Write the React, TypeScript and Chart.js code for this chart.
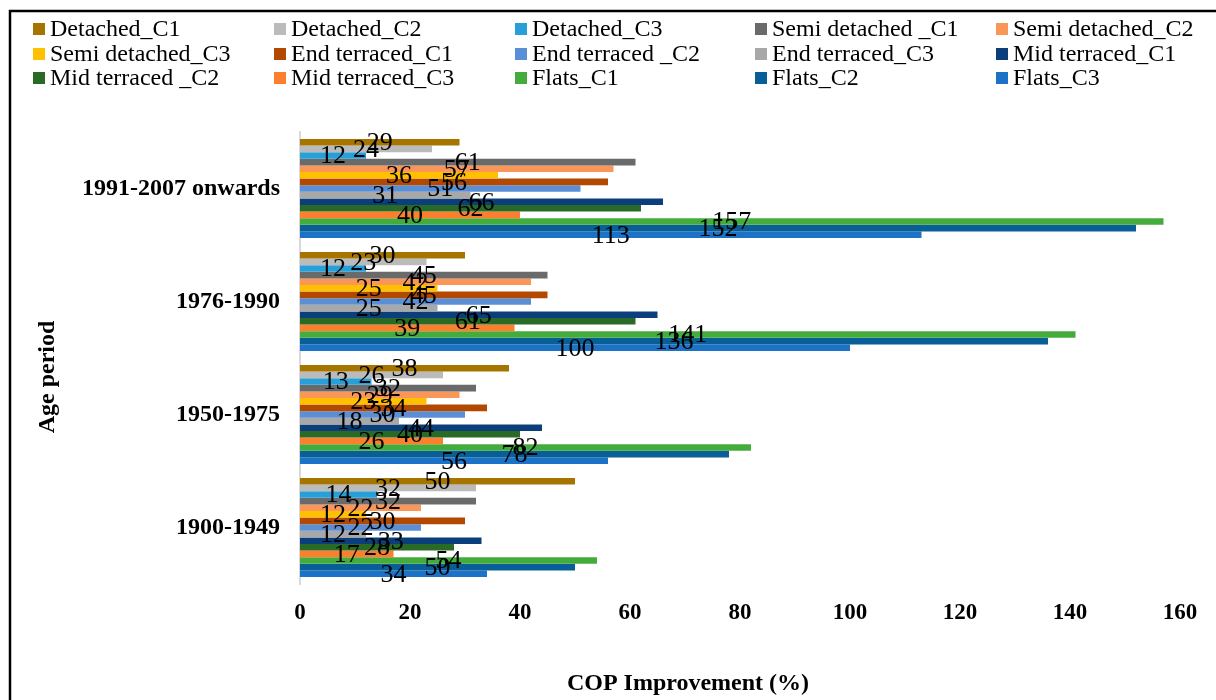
import React, { useEffect, useRef } from "react";
import { Chart, registerables } from "chart.js";

Chart.register(...registerables);

// Age periods, listed top to bottom
const periods = ["1991-2007 onwards", "1976-1990", "1950-1975", "1900-1949"];

const seriesNames = [
  "Detached_C1",
  "Detached_C2",
  "Detached_C3",
  "Semi detached _C1",
  "Semi detached_C2",
  "Semi detached_C3",
  "End terraced_C1",
  "End terraced _C2",
  "End terraced_C3",
  "Mid terraced_C1",
  "Mid terraced _C2",
  "Mid terraced_C3",
  "Flats_C1",
  "Flats_C2",
  "Flats_C3",
];

const seriesColors = [
  "#A67500",
  "#BBBBBB",
  "#27A0DA",
  "#6A6A6A",
  "#FA9758",
  "#FFC000",
  "#B34800",
  "#5B8FD5",
  "#A8A8A8",
  "#0A3F7B",
  "#2A6A27",
  "#FB7F2C",
  "#44AC3D",
  "#085E97",
  "#1B72C7",
];

// COP improvement (%) per period
const detachedC1 = [29, 30, 38, 50];
const detachedC2 = [24, 23, 26, 32];
const detachedC3 = [12, 12, 13, 14];
const semiC1 = [61, 45, 32, 32];
const semiC2 = [57, 42, 29, 22];
const semiC3 = [36, 25, 23, 12];
const endC1 = [56, 45, 34, 30];
const endC2 = [51, 42, 30, 22];
const endC3 = [31, 25, 18, 12];
const midC1 = [66, 65, 44, 33];
const midC2 = [62, 61, 40, 28];
const midC3 = [40, 39, 26, 17];
const flatsC1 = [157, 141, 82, 54];
const flatsC2 = [152, 136, 78, 50];
const flatsC3 = [113, 100, 56, 34];

const seriesValues = [
  detachedC1, detachedC2, detachedC3,
  semiC1, semiC2, semiC3,
  endC1, endC2, endC3,
  midC1, midC2, midC3,
  flatsC1, flatsC2, flatsC3,
];

const xMin = 0;
const xMax = 160;
const xStep = 20;

const xTitle = "COP Improvement (%)";
const yTitle = "Age period";

const SERIF = "'Liberation Serif', 'Times New Roman', serif";

// Value labels centred on each bar
const barValueLabels = {
  id: "barValueLabels",
  afterDatasetsDraw(chart: any) {
    const ctx = chart.ctx;
    ctx.save();
    ctx.font = `26px ${SERIF}`;
    ctx.fillStyle = "#000";
    ctx.textAlign = "center";
    ctx.textBaseline = "middle";
    chart.data.datasets.forEach((ds: any, i: number) => {
      const meta = chart.getDatasetMeta(i);
      meta.data.forEach((bar: any, j: number) => {
        const { x, y, base } = bar.getProps(["x", "y", "base"], true);
        ctx.fillText(String(ds.data[j]), (x + base) / 2, y + 1);
      });
    });
    ctx.restore();
  },
};

// Outer frame, legend grid and axis titles
const decorations = {
  id: "decorations",
  beforeDraw(chart: any) {
    const ctx = chart.ctx;
    ctx.save();
    ctx.fillStyle = "#fff";
    ctx.fillRect(0, 0, chart.width, chart.height);
    ctx.restore();
  },
  afterDraw(chart: any) {
    const ctx = chart.ctx;
    ctx.save();

    // frame
    ctx.strokeStyle = "#000";
    ctx.lineWidth = 2.5;
    ctx.beginPath();
    ctx.moveTo(chart.width + 5, 11);
    ctx.lineTo(10, 11);
    ctx.lineTo(10, chart.height + 5);
    ctx.stroke();

    // legend: 5 columns x 3 rows
    const colX = [33, 274, 515, 755, 996];
    const rowY = [29, 54, 78];
    ctx.font = `24px ${SERIF}`;
    ctx.textAlign = "left";
    ctx.textBaseline = "middle";
    seriesNames.forEach((name, i) => {
      const cx = colX[i % 5];
      const cy = rowY[Math.floor(i / 5)];
      ctx.fillStyle = seriesColors[i];
      ctx.fillRect(cx, cy - 6, 12, 12);
      ctx.fillStyle = "#000";
      ctx.fillText(name, cx + 17, cy + 1);
    });

    // axis titles
    ctx.font = `bold 24px ${SERIF}`;
    ctx.textAlign = "center";
    ctx.fillText(xTitle, 688, 684);
    ctx.translate(48, 377);
    ctx.rotate(-Math.PI / 2);
    ctx.fillText(yTitle, 0, 0);

    ctx.restore();
  },
};

export default function App() {
  const canvasRef = useRef<HTMLCanvasElement | null>(null);

  useEffect(() => {
    const canvas = canvasRef.current;
    if (!canvas) return;

    const chart = new Chart(canvas, {
      type: "bar",
      data: {
        labels: periods,
        datasets: seriesNames.map((name, i) => ({
          label: name,
          data: seriesValues[i],
          backgroundColor: seriesColors[i],
          borderWidth: 0,
          barPercentage: 1,
          categoryPercentage: 0.876,
        })),
      },
      options: {
        indexAxis: "y",
        responsive: false,
        animation: false,
        devicePixelRatio: 1,
        layout: {
          padding: { top: 132, right: 36, bottom: 0, left: 0 },
        },
        plugins: {
          legend: { display: false },
          tooltip: { enabled: false },
          title: { display: false },
        },
        scales: {
          x: {
            min: xMin,
            max: xMax,
            grid: { display: false, drawTicks: false },
            border: { display: false },
            ticks: {
              stepSize: xStep,
              padding: 15,
              color: "#000",
              font: { family: SERIF, size: 23, weight: "bold" },
            },
            afterFit: (s: any) => {
              s.height = 116;
              s.paddingLeft = 0;
              s.paddingRight = 0;
            },
          },
          y: {
            grid: { display: false, drawTicks: false },
            border: { display: true, color: "#D9D9D9", width: 2 },
            ticks: {
              padding: 20,
              color: "#000",
              font: { family: SERIF, size: 24, weight: "bold" },
            },
            afterFit: (s: any) => {
              s.width = 300;
              s.paddingTop = 0;
              s.paddingBottom = 0;
            },
          },
        },
      },
      plugins: [decorations, barValueLabels],
    } as any);

    return () => chart.destroy();
  }, []);

  return (
    <canvas
      ref={canvasRef}
      width={1216}
      height={700}
      style={{ position: "fixed", left: 0, top: 0, display: "block" }}
    />
  );
}
